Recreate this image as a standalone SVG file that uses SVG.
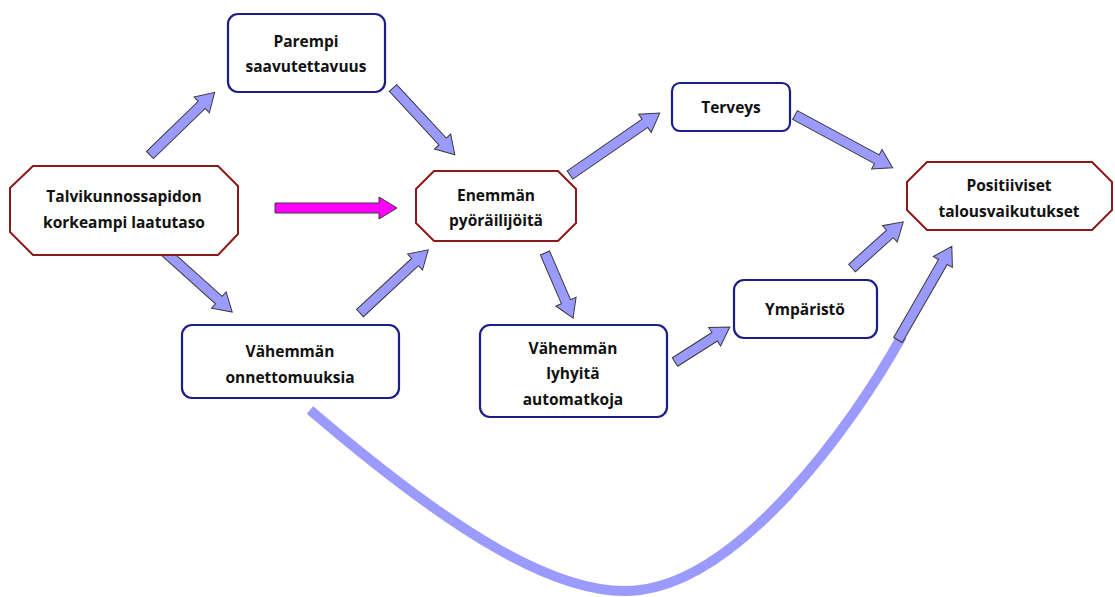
<svg xmlns="http://www.w3.org/2000/svg" width="1115" height="597" viewBox="0 0 1115 597">
<style>
.box{fill:#fff;stroke:#1c1c8a;stroke-width:2.2}
.oct{fill:#fff;stroke:#8b1a1a;stroke-width:2}
.t{font-family:"Open Sans","Liberation Sans",sans-serif;font-weight:bold;font-size:15.5px;fill:#111;text-anchor:middle}
.ar{fill:#9a9aff;stroke:#3a3a3a;stroke-width:1}
.mg{fill:#ff00ff;stroke:#3a3a3a;stroke-width:1}
</style>
<rect width="1115" height="597" fill="#fff"/>
<g id="connectors">
<path d="M310,410 C450,530 560,600 640,590 C740,578 850,430 902,336" fill="none" stroke="#9a9aff" stroke-width="10"/>
<g transform="translate(150,155) rotate(-44.1)"><polygon class="ar" points="0,-5 72,-5 72,-11 90,0 72,11 72,5 0,5"/></g>
<g transform="translate(393,88) rotate(47.2)"><polygon class="ar" points="0,-5 73,-5 73,-11 91,0 73,11 73,5 0,5"/></g>
<g transform="translate(275,208)"><polygon class="mg" points="0,-5 104,-5 104,-11 122,0 104,11 104,5 0,5"/></g>
<g transform="translate(163,250) rotate(41.9)"><polygon class="ar" points="0,-5 75,-5 75,-11 93,0 75,11 75,5 0,5"/></g>
<g transform="translate(360,313) rotate(-42.8)"><polygon class="ar" points="0,-5 75,-5 75,-11 93,0 75,11 75,5 0,5"/></g>
<g transform="translate(570,175) rotate(-34.6)"><polygon class="ar" points="0,-5 91,-5 91,-11 109,0 91,11 91,5 0,5"/></g>
<g transform="translate(795,115) rotate(28.4)"><polygon class="ar" points="0,-5 93,-5 93,-11 111,0 93,11 93,5 0,5"/></g>
<g transform="translate(545,253) rotate(66.7)"><polygon class="ar" points="0,-5 53,-5 53,-11 71,0 53,11 53,5 0,5"/></g>
<g transform="translate(675,362) rotate(-32.5)"><polygon class="ar" points="0,-5 47,-5 47,-11 65,0 47,11 47,5 0,5"/></g>
<g transform="translate(852,268) rotate(-42)"><polygon class="ar" points="0,-5 51,-5 51,-11 69,0 51,11 51,5 0,5"/></g>
<g transform="translate(898,340) rotate(-60.1)"><polygon class="ar" points="0,-5 90,-5 90,-11 108,0 90,11 90,5 0,5"/></g>
</g>
<g id="n-parempi"><rect class="box" x="228" y="14" width="157" height="78" rx="10"/><text class="t" x="306" y="47">Parempi</text><text class="t" x="306" y="72">saavutettavuus</text></g>
<g id="n-talvi"><polygon class="oct" points="33,166 218,166 238,186 238,234 218,255 33,255 10,232 10,188"/><text class="t" x="124" y="202">Talvikunnossapidon</text><text class="t" x="124" y="228">korkeampi laatutaso</text></g>
<g id="n-enemman"><polygon class="oct" points="434,171 558,171 576,189 576,223 558,241 434,241 416,223 416,189"/><text class="t" x="496" y="201">Enemmän</text><text class="t" x="496" y="226">pyöräilijöitä</text></g>
<g id="n-terveys"><rect class="box" x="672" y="83" width="118" height="48" rx="8"/><text class="t" x="731" y="113">Terveys</text></g>
<g id="n-positiiviset"><polygon class="oct" points="927,162 1092,162 1112,182 1112,210 1092,230 927,230 907,210 907,182"/><text class="t" x="1009" y="191">Positiiviset</text><text class="t" x="1009" y="217">talousvaikutukset</text></g>
<g id="n-onnettomuuksia"><rect class="box" x="182" y="325" width="217" height="73" rx="10"/><text class="t" x="290" y="357">Vähemmän</text><text class="t" x="290" y="383">onnettomuuksia</text></g>
<g id="n-lyhyita"><rect class="box" x="480" y="325" width="187" height="92" rx="10"/><text class="t" x="573" y="354">Vähemmän</text><text class="t" x="573" y="379">lyhyitä</text><text class="t" x="573" y="405">automatkoja</text></g>
<g id="n-ymparisto"><rect class="box" x="734" y="280" width="143" height="58" rx="10"/><text class="t" x="805" y="315">Ympäristö</text></g>
</svg>
